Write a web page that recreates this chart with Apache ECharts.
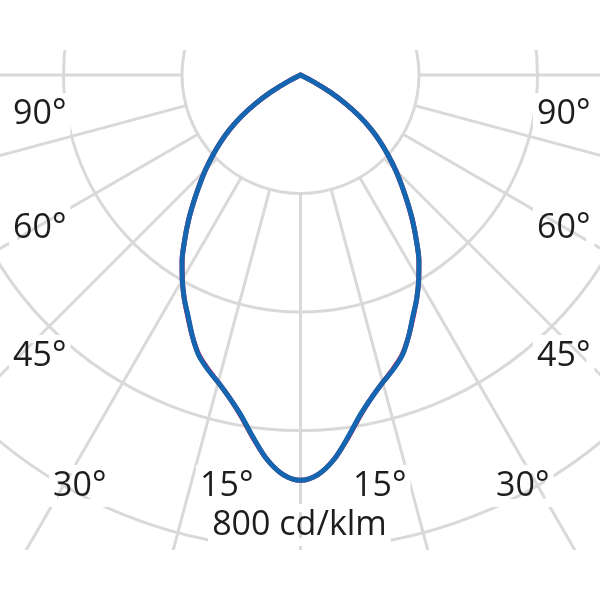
<!DOCTYPE html>
<html>
<head>
<meta charset="utf-8">
<script src="https://cdn.jsdelivr.net/npm/echarts/dist/echarts.min.js"></script>
<style>
html,body{margin:0;padding:0;background:#fff;}
#chart{width:600px;height:600px;}
</style>
</head>
<body>
<div id="chart"></div>
<script>
// Gamma angles (degrees from nadir) and luminous intensity in cd/klm
const gammaAngles = [0, 2.5, 5, 7.5, 10, 12.5, 15, 17.5, 20, 22.5, 25, 27.5, 30, 32.5, 35, 37.5, 40, 42.5, 45, 47.5, 50, 52.5, 55, 57.5, 60, 62.5, 65, 70, 75, 80, 85, 90];
const intensityC0_180 = [684, 675, 651, 616, 582, 557, 537, 521, 503, 477, 449, 425, 399, 372, 341, 311, 281, 253, 227, 201, 176, 150, 122, 90, 58, 25, 0, 0, 0, 0, 0, 0];
const intensityC90_270 = [684, 675, 651, 617, 583, 557, 537, 520, 502, 477, 450, 425, 399, 372, 341, 311, 281, 253, 227, 201, 176, 150, 122, 90, 58, 25, 0, 0, 0, 0, 0, 0];

// Grid rings (cd/klm) and angle labels
const ringMin = 200, ringMax = 1000, ringStep = 200;
const angleLabelTexts = ['90°', '60°', '45°', '30°', '15°', '15°', '30°', '45°', '60°', '90°'];
const scaleLabel = '800 cd/klm';

// Layout (pixels) for the annotation labels
const angleLabelPos = [[13, 114], [13, 228], [13, 356], [53, 486], [200, 486], [353, 486], [496, 486], [537, 356], [537, 228], [537, 114]];
const scaleLabelPos = [299.5, 525];

function buildCurve(values) {
  const pts = [];
  for (let i = gammaAngles.length - 1; i >= 0; i--) pts.push([values[i], gammaAngles[i]]);
  for (let i = 1; i < gammaAngles.length; i++) pts.push([values[i], -gammaAngles[i]]);
  return pts;
}

const chart = echarts.init(document.getElementById('chart'), null, {renderer: 'canvas'});
const gridColor = '#d9d9d9';
const center = [300.5, 75];
const unitPx = 118.5; // pixels per 200 cd/klm

const labelFont = {fontFamily: 'Open Sans', fontSize: 34, fill: '#1d1d1b', textBorderColor: '#fff', textBorderWidth: 8, textVerticalAlign: 'middle'};

const graphics = [
  {type: 'rect', shape: {x: 0, y: 0, width: 600, height: 50}, style: {fill: '#fff'}, z: 100},
  {type: 'rect', shape: {x: 0, y: 550, width: 600, height: 50}, style: {fill: '#fff'}, z: 100},
  {type: 'rect', shape: {x: 236, y: 537, width: 63, height: 14}, style: {fill: '#fff'}, z: 100},
  {type: 'rect', shape: {x: 302, y: 537, width: 63, height: 14}, style: {fill: '#fff'}, z: 100}
];
angleLabelTexts.forEach((t, i) => {
  graphics.push({type: 'text', x: angleLabelPos[i][0], y: angleLabelPos[i][1], z: 101,
    style: Object.assign({text: t, textAlign: 'left'}, labelFont)});
});
graphics.push({type: 'text', x: scaleLabelPos[0], y: scaleLabelPos[1], z: 101,
  style: Object.assign({text: scaleLabel, textAlign: 'center'}, labelFont)});

chart.setOption({
  animation: false,
  backgroundColor: '#fff',
  polar: [
    {center: center, radius: [unitPx, unitPx * (ringMax / ringStep)]},
    {center: center, radius: [0, unitPx * 4]}
  ],
  angleAxis: [
    {polarIndex: 0, type: 'value', min: -180, max: 180, interval: 15, startAngle: 90, clockwise: true,
      axisLine: {show: false}, axisTick: {show: false}, axisLabel: {show: false},
      splitLine: {show: true, lineStyle: {color: gridColor, width: 3}}},
    {polarIndex: 1, type: 'value', min: -180, max: 180, startAngle: 90, clockwise: true,
      axisLine: {show: false}, axisTick: {show: false}, axisLabel: {show: false}, splitLine: {show: false}}
  ],
  radiusAxis: [
    {polarIndex: 0, type: 'value', min: ringMin, max: ringMax, interval: ringStep,
      axisLine: {show: false}, axisTick: {show: false}, axisLabel: {show: false},
      splitLine: {show: true, lineStyle: {color: gridColor, width: 3}}},
    {polarIndex: 1, type: 'value', min: 0, max: 800,
      axisLine: {show: false}, axisTick: {show: false}, axisLabel: {show: false}, splitLine: {show: false}}
  ],
  series: [
    {name: 'C90-C270', type: 'line', coordinateSystem: 'polar', polarIndex: 1, data: buildCurve(intensityC90_270),
      showSymbol: false, smooth: 0.3, z: 2, lineStyle: {color: '#c8174a', width: 5, cap: 'round', join: 'round'}},
    {name: 'C0-C180', type: 'line', coordinateSystem: 'polar', polarIndex: 1, data: buildCurve(intensityC0_180),
      showSymbol: false, smooth: 0.3, z: 3, lineStyle: {color: '#1466b0', width: 5, cap: 'round', join: 'round'}}
  ],
  graphic: graphics
});
</script>
</body>
</html>
